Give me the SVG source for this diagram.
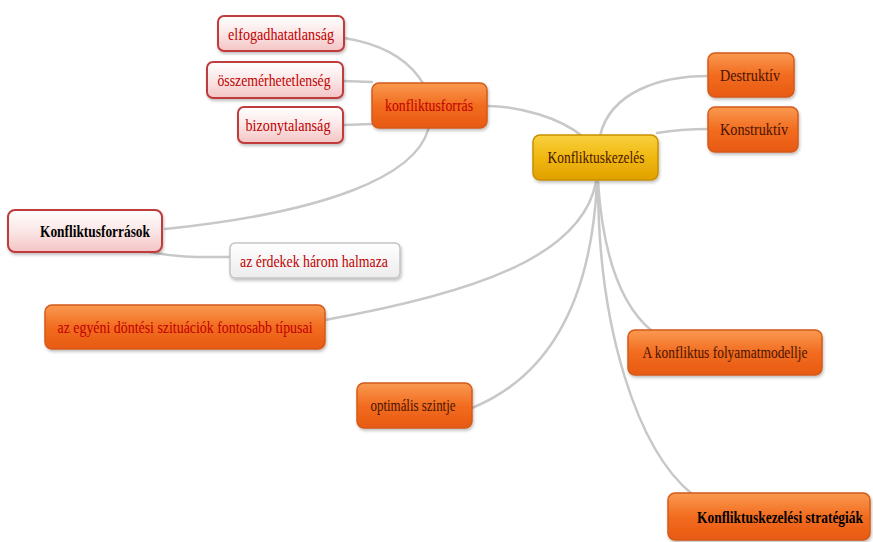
<svg xmlns="http://www.w3.org/2000/svg" width="873" height="542" viewBox="0 0 873 542">
<defs>
<linearGradient id="gOr" x1="0" y1="0" x2="0" y2="1"><stop offset="0" stop-color="#f99a50"/><stop offset="0.5" stop-color="#f26c20"/><stop offset="1" stop-color="#e85a12"/></linearGradient>
<linearGradient id="gGold" x1="0" y1="0" x2="0" y2="1"><stop offset="0" stop-color="#f8d040"/><stop offset="0.5" stop-color="#f0b810"/><stop offset="1" stop-color="#e0a000"/></linearGradient>
<linearGradient id="gPink" x1="0" y1="0" x2="0" y2="1"><stop offset="0" stop-color="#ffffff"/><stop offset="0.5" stop-color="#fbe6e6"/><stop offset="1" stop-color="#f4c4c4"/></linearGradient>
<linearGradient id="gGrey" x1="0" y1="0" x2="0" y2="1"><stop offset="0" stop-color="#ffffff"/><stop offset="1" stop-color="#ececec"/></linearGradient>
<filter id="sh" x="-10%" y="-20%" width="120%" height="150%"><feDropShadow dx="1" dy="2" stdDeviation="1.5" flood-color="#000" flood-opacity="0.25"/></filter>
</defs>
<style>
.or{fill:url(#gOr);stroke:#d45a18;stroke-width:1.5;filter:url(#sh)}
.gold{fill:url(#gGold);stroke:#c89000;stroke-width:1.5;filter:url(#sh)}
.pink{fill:url(#gPink);stroke:#c03a3a;stroke-width:2;filter:url(#sh)}
.grey{fill:url(#gGrey);stroke:#c4c4c4;stroke-width:1.5;filter:url(#sh)}
text{font-family:"Liberation Serif","Times New Roman",serif;font-size:17px;text-anchor:middle}
.red{fill:#c00000}
.dk{fill:#4a1400}
.bk{fill:#000;font-weight:bold}
.c{fill:none;stroke:#c8c8c8;stroke-width:2.5;stroke-linecap:round}
</style>
<rect width="873" height="542" fill="#ffffff"/>
<g id="connectors">
<path class="c" d="M344,38 C420,50 440,100 428,130 C415,175 330,212 165,229"/>
<path class="c" d="M150,252 C180,258 200,257 230,257"/>
<path class="c" d="M343,81 L372,82"/>
<path class="c" d="M343,125 L372,124"/>
<path class="c" d="M582,136 C560,118 520,106 487,106"/>
<path class="c" d="M600,136 C610,92 660,76 708,76"/>
<path class="c" d="M657,133 C675,130 690,129 708,129"/>
<path class="c" d="M596,182 C582,255 480,292 325,320"/>
<path class="c" d="M597,182 C592,285 560,372 472,408"/>
<path class="c" d="M598,182 C603,255 620,305 652,331"/>
<path class="c" d="M598,182 C598,330 638,450 692,494"/>
</g>
<g id="n-elfogadhatatlansag"><rect class="pink" x="218" y="16" width="126" height="35" rx="6"/><text class="red" x="281" y="40" textLength="106" lengthAdjust="spacingAndGlyphs">elfogadhatatlanság</text></g>
<g id="n-osszemerhetetlenseg"><rect class="pink" x="207" y="62" width="136" height="36" rx="6"/><text class="red" x="274" y="86" textLength="113" lengthAdjust="spacingAndGlyphs">összemérhetetlenség</text></g>
<g id="n-bizonytalansag"><rect class="pink" x="238" y="107" width="105" height="36" rx="6"/><text class="red" x="288" y="131" textLength="85" lengthAdjust="spacingAndGlyphs">bizonytalanság</text></g>
<g id="n-konfliktusforras"><rect class="or" x="372" y="83" width="115" height="45" rx="7"/><text class="red" x="429" y="111" textLength="88" lengthAdjust="spacingAndGlyphs">konfliktusforrás</text></g>
<g id="n-konfliktuskezeles"><rect class="gold" x="533" y="135" width="125" height="45" rx="7"/><text class="dk" x="596" y="163" textLength="97" lengthAdjust="spacingAndGlyphs">Konfliktuskezelés</text></g>
<g id="n-destruktiv"><rect class="or" x="708" y="53" width="86" height="44" rx="7"/><text class="dk" x="750" y="81" textLength="60" lengthAdjust="spacingAndGlyphs">Destruktív</text></g>
<g id="n-konstruktiv"><rect class="or" x="708" y="107" width="90" height="45" rx="7"/><text class="dk" x="754" y="135" textLength="68" lengthAdjust="spacingAndGlyphs">Konstruktív</text></g>
<g id="n-konfliktusforrasok"><rect class="pink" x="8" y="210" width="154" height="42" rx="7"/><text class="bk" x="95" y="237" textLength="110" lengthAdjust="spacingAndGlyphs">Konfliktusforrások</text></g>
<g id="n-erdekek"><rect class="grey" x="230" y="243" width="170" height="35" rx="5"/><text class="red" x="314" y="267" textLength="148" lengthAdjust="spacingAndGlyphs">az érdekek három halmaza</text></g>
<g id="n-egyeni"><rect class="or" x="45" y="305" width="280" height="44" rx="7"/><text class="red" x="185" y="333" textLength="255" lengthAdjust="spacingAndGlyphs">az egyéni döntési szituációk fontosabb típusai</text></g>
<g id="n-folyamatmodell"><rect class="or" x="628" y="330" width="194" height="45" rx="7"/><text class="dk" x="725" y="358" textLength="165" lengthAdjust="spacingAndGlyphs">A konfliktus folyamatmodellje</text></g>
<g id="n-optimalis"><rect class="or" x="357" y="383" width="115" height="45" rx="7"/><text class="dk" x="413" y="411" textLength="85" lengthAdjust="spacingAndGlyphs">optimális szintje</text></g>
<g id="n-strategiak"><rect class="or" x="668" y="493" width="202" height="47" rx="7"/><text class="bk" x="780" y="523" textLength="166" lengthAdjust="spacingAndGlyphs">Konfliktuskezelési stratégiák</text></g>
</svg>
